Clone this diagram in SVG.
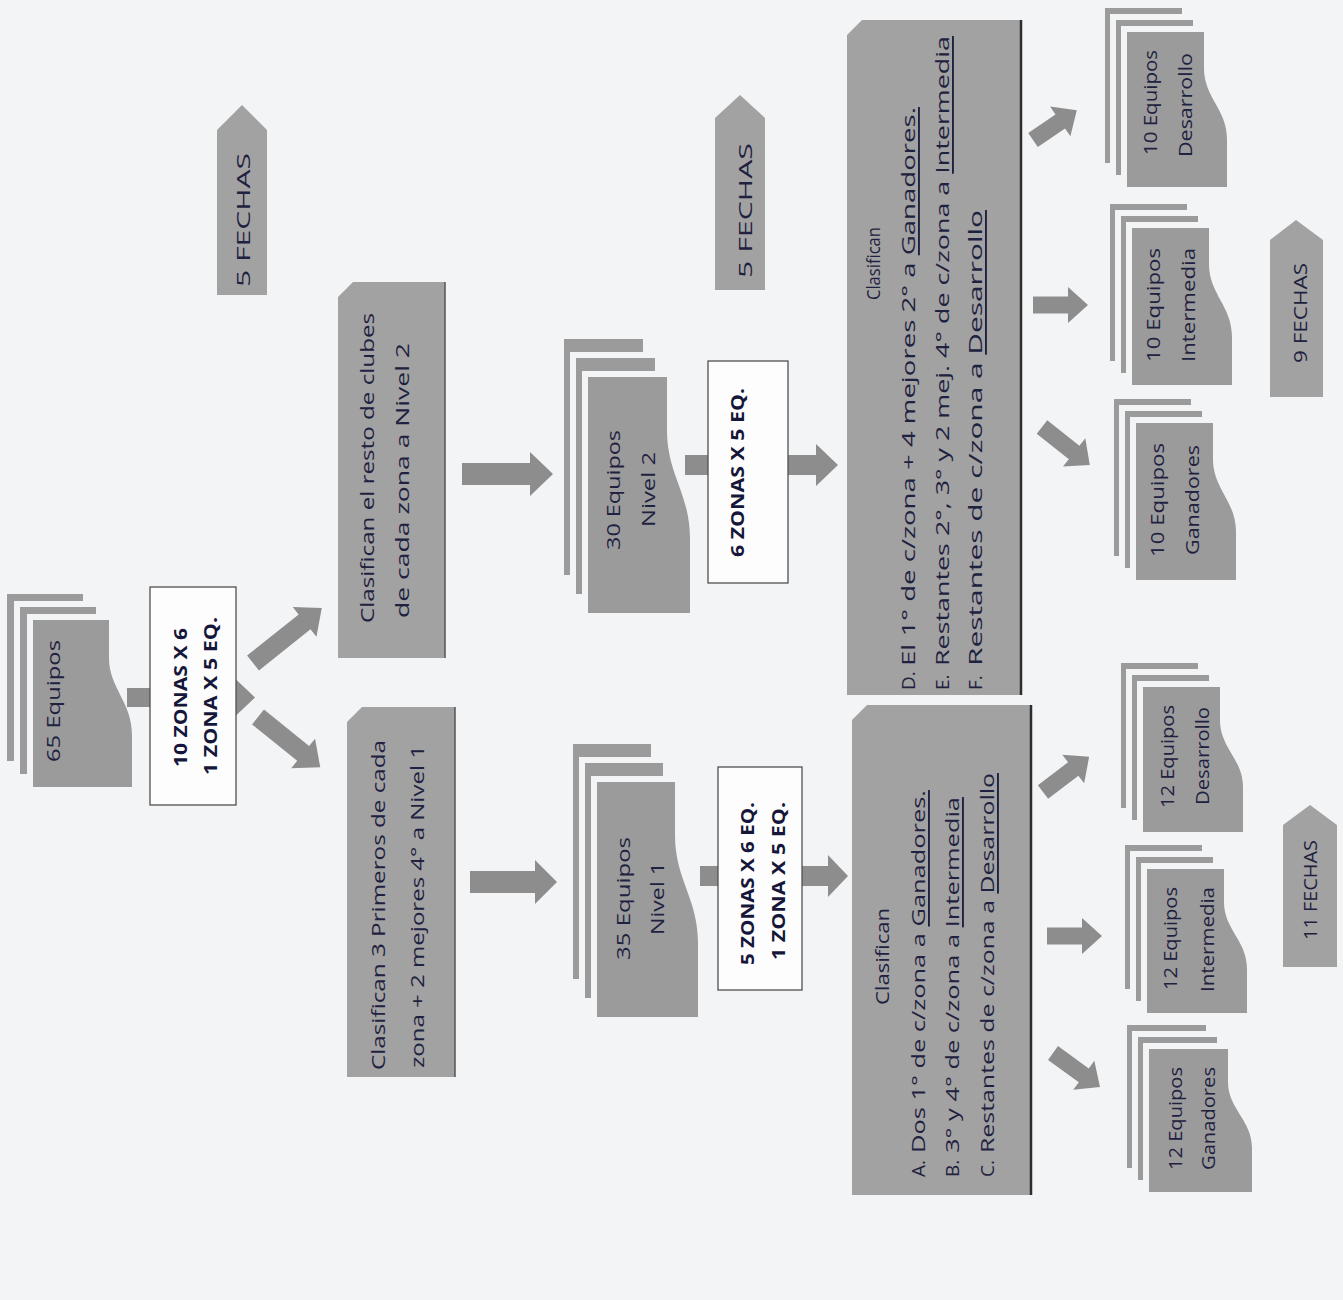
<svg xmlns="http://www.w3.org/2000/svg" width="1343" height="1300" viewBox="0 0 1343 1300">
<style>
.bg{fill:#f3f4f6}
.doc{fill:#9b9b9b}
.gap{fill:#f3f4f6}
.box{fill:#a2a2a2}
.edge{stroke:#2e2e2e;stroke-width:2.5}
.edge2{stroke:#555;stroke-width:1.5}
.lbl{fill:#fdfdfd;stroke:#505050;stroke-width:1.3}
.arr{fill:#8d8d8d}
.t{font-family:"Open Sans","Noto Sans",sans-serif;font-size:19px;fill:#1f2140;dominant-baseline:central}
.b{font-weight:700;font-size:18px;fill:#15163a}
.u{text-decoration:underline}
</style>
<rect class="bg" width="1343" height="1300"/>
<g transform="translate(0 1300) rotate(-90)">
  <g id="connectors">
    <path class="arr" transform="translate(602.5 127) rotate(90)" d="M0 -9.5 H108 V-19 L128 0 L108 19 V9.5 H0 Z"/>
    <path class="arr" transform="translate(637 253) rotate(51.4)" d="M0 -9.5 H66 V-19 L88 0 L66 19 V9.5 H0 Z"/>
    <path class="arr" transform="translate(583 258) rotate(128.9)" d="M0 -9.5 H58 V-19 L80 0 L58 19 V9.5 H0 Z"/>
    <path class="arr" transform="translate(418 470) rotate(90)" d="M0 -11 H65 V-22 L87 0 L65 22 V11 H0 Z"/>
    <path class="arr" transform="translate(826 462) rotate(90)" d="M0 -11 H68 V-22 L91 0 L68 22 V11 H0 Z"/>
    <path class="arr" transform="translate(424 700) rotate(90)" d="M0 -10 H128 V-21 L148 0 L128 21 V10 H0 Z"/>
    <path class="arr" transform="translate(835 685) rotate(90)" d="M0 -10 H131 V-21 L153 0 L131 21 V10 H0 Z"/>
    <path class="arr" transform="translate(508 1043) rotate(52.7)" d="M0 -8.5 H38 V-18 L58 0 L38 18 V8.5 H0 Z"/>
    <path class="arr" transform="translate(364 1047) rotate(90)" d="M0 -8.5 H35 V-18 L55 0 L35 18 V8.5 H0 Z"/>
    <path class="arr" transform="translate(247 1053) rotate(125.9)" d="M0 -8.5 H38 V-18 L58 0 L38 18 V8.5 H0 Z"/>
    <path class="arr" transform="translate(1160 1033) rotate(55.7)" d="M0 -8.5 H33 V-18 L53 0 L33 18 V8.5 H0 Z"/>
    <path class="arr" transform="translate(995 1033) rotate(90)" d="M0 -8.5 H35 V-18 L55 0 L35 18 V8.5 H0 Z"/>
    <path class="arr" transform="translate(873 1042) rotate(128.4)" d="M0 -8.5 H41 V-18 L61 0 L41 18 V8.5 H0 Z"/>
  </g>

  <g id="doc-65-equipos">
    <rect class="doc" x="539" y="7" width="167" height="76"/>
    <rect class="gap" x="526" y="14" width="173" height="82"/>
    <rect class="doc" x="526" y="20" width="167" height="76"/>
    <rect class="gap" x="513" y="27" width="173" height="82"/>
    <path class="doc" d="M513 33 H680 V109 L642 109 C612 109 598 132 565 132 L513 132 Z"/>
    <text class="t" x="538" y="53" textLength="122" lengthAdjust="spacingAndGlyphs">65 Equipos</text>
  </g>

  <g id="zonas-10">
    <rect class="lbl" x="495" y="150" width="218" height="86"/>
    <text class="t b" x="533" y="180" textLength="139" lengthAdjust="spacingAndGlyphs">10 ZONAS X 6</text>
    <text class="t b" x="525" y="210" textLength="158" lengthAdjust="spacingAndGlyphs">1 ZONA X 5 EQ.</text>
  </g>

  <g id="fechas-5a">
    <path class="box" d="M1005 217 H1170 L1195 242 L1170 267 H1005 Z"/>
    <text class="t" x="1013" y="243" textLength="134" lengthAdjust="spacingAndGlyphs">5 FECHAS</text>
  </g>

  <g id="clasifican-nivel1">
    <path class="box" d="M223 347 H578 L593 362 V455 H223 Z"/>
    <line class="edge2" x1="223" y1="455" x2="593" y2="455"/>
    <text class="t" x="230" y="378" textLength="330" lengthAdjust="spacingAndGlyphs">Clasifican 3 Primeros de cada</text>
    <text class="t" x="232" y="417" textLength="323" lengthAdjust="spacingAndGlyphs">zona + 2 mejores 4° a Nivel 1</text>
  </g>

  <g id="clasifican-nivel2">
    <path class="box" d="M642 338 H1003 L1018 353 V445 H642 Z"/>
    <line class="edge2" x1="642" y1="445" x2="1018" y2="445"/>
    <text class="t" x="677" y="367" textLength="310" lengthAdjust="spacingAndGlyphs">Clasifican el resto de clubes</text>
    <text class="t" x="682" y="402" textLength="275" lengthAdjust="spacingAndGlyphs">de cada zona a Nivel 2</text>
  </g>

  <g id="doc-35-nivel1">
    <rect class="doc" x="321" y="573" width="235" height="78"/>
    <rect class="gap" x="302" y="579" width="241" height="84"/>
    <rect class="doc" x="302" y="585" width="235" height="78"/>
    <rect class="gap" x="283" y="591" width="241" height="84"/>
    <path class="doc" d="M283 597 H518 V675 L465 675 C420 675 402 698 357 698 L283 698 Z"/>
    <text class="t" x="340" y="623" textLength="123" lengthAdjust="spacingAndGlyphs">35 Equipos</text>
    <text class="t" x="365" y="657" textLength="73" lengthAdjust="spacingAndGlyphs">Nivel 1</text>
  </g>

  <g id="doc-30-nivel2">
    <rect class="doc" x="725" y="564" width="236" height="79"/>
    <rect class="gap" x="706" y="570" width="242" height="85"/>
    <rect class="doc" x="706" y="576" width="236" height="79"/>
    <rect class="gap" x="687" y="582" width="242" height="85"/>
    <path class="doc" d="M687 588 H923 V667 L870 667 C825 667 807 690 761 690 L687 690 Z"/>
    <text class="t" x="750" y="613" textLength="120" lengthAdjust="spacingAndGlyphs">30 Equipos</text>
    <text class="t" x="773" y="648" textLength="75" lengthAdjust="spacingAndGlyphs">Nivel 2</text>
  </g>

  <g id="zonas-5">
    <rect class="lbl" x="310" y="718" width="223" height="84"/>
    <text class="t b" x="335" y="747" textLength="163" lengthAdjust="spacingAndGlyphs">5 ZONAS X 6 EQ.</text>
    <text class="t b" x="340" y="778" textLength="158" lengthAdjust="spacingAndGlyphs">1 ZONA X 5 EQ.</text>
  </g>

  <g id="zonas-6">
    <rect class="lbl" x="717" y="708" width="222" height="80"/>
    <text class="t b" x="743" y="737" textLength="169" lengthAdjust="spacingAndGlyphs">6 ZONAS X 5 EQ.</text>
  </g>

  <g id="fechas-5b">
    <path class="box" d="M1010 715 H1182 L1205 740 L1182 765 H1010 Z"/>
    <text class="t" x="1022" y="745" textLength="135" lengthAdjust="spacingAndGlyphs">5 FECHAS</text>
  </g>

  <g id="clasifican-abc">
    <path class="box" d="M105 852 H580 L595 867 V1032 H105 Z"/>
    <line class="edge" x1="105" y1="1031" x2="595" y2="1031"/>
    <text class="t" x="295" y="882" textLength="97" lengthAdjust="spacingAndGlyphs">Clasifican</text>
    <text class="t" x="123" y="918">A.</text>
    <text class="t" x="147" y="918" textLength="363" lengthAdjust="spacingAndGlyphs">Dos 1° de c/zona a <tspan class="u">Ganadores.</tspan></text>
    <text class="t" x="123" y="952">B.</text>
    <text class="t" x="147" y="952" textLength="356" lengthAdjust="spacingAndGlyphs">3° y 4° de c/zona  a <tspan class="u">Intermedia</tspan></text>
    <text class="t" x="123" y="987">C.</text>
    <text class="t" x="147" y="987" textLength="380" lengthAdjust="spacingAndGlyphs">Restantes de c/zona a <tspan class="u">Desarrollo</tspan></text>
  </g>

  <g id="clasifican-def">
    <path class="box" d="M605 847 H1265 L1280 862 V1022 H605 Z"/>
    <line class="edge" x1="605" y1="1021" x2="1280" y2="1021"/>
    <text class="t" x="1000" y="873" textLength="73" lengthAdjust="spacingAndGlyphs">Clasifican</text>
    <text class="t" x="610" y="908">D.</text>
    <text class="t" x="634" y="908" textLength="559" lengthAdjust="spacingAndGlyphs">El 1° de c/zona + 4 mejores 2° a <tspan class="u">Ganadores.</tspan></text>
    <text class="t" x="610" y="942">E.</text>
    <text class="t" x="634" y="942" textLength="630" lengthAdjust="spacingAndGlyphs">Restantes 2°, 3° y 2 mej. 4° de c/zona  a <tspan class="u">Intermedia</tspan></text>
    <text class="t" x="610" y="975">F.</text>
    <text class="t" x="634" y="975" textLength="456" lengthAdjust="spacingAndGlyphs">Restantes de c/zona a <tspan class="u">Desarrollo</tspan></text>
  </g>

  <g id="doc-12-ganadores">
    <rect class="doc" x="132" y="1127" width="143" height="79"/>
    <rect class="gap" x="120" y="1132" width="149" height="85"/>
    <rect class="doc" x="120" y="1138" width="143" height="79"/>
    <rect class="gap" x="108" y="1143" width="149" height="85"/>
    <path class="doc" d="M108 1149 H251 V1228 L218 1228 C191 1228 180 1252 152 1252 L108 1252 Z"/>
    <text class="t" x="130" y="1175" textLength="103" lengthAdjust="spacingAndGlyphs">12 Equipos</text>
    <text class="t" x="130" y="1208" textLength="103" lengthAdjust="spacingAndGlyphs">Ganadores</text>
  </g>

  <g id="doc-12-intermedia">
    <rect class="doc" x="311" y="1125" width="144" height="77"/>
    <rect class="gap" x="299" y="1130" width="150" height="83"/>
    <rect class="doc" x="299" y="1136" width="144" height="77"/>
    <rect class="gap" x="287" y="1141" width="150" height="83"/>
    <path class="doc" d="M287 1147 H431 V1224 L398 1224 C370 1224 360 1247 331 1247 L287 1247 Z"/>
    <text class="t" x="310" y="1170" textLength="103" lengthAdjust="spacingAndGlyphs">12 Equipos</text>
    <text class="t" x="308" y="1207" textLength="105" lengthAdjust="spacingAndGlyphs">Intermedia</text>
  </g>

  <g id="doc-12-desarrollo">
    <rect class="doc" x="492" y="1121" width="145" height="77"/>
    <rect class="gap" x="480" y="1126" width="151" height="83"/>
    <rect class="doc" x="480" y="1132" width="145" height="77"/>
    <rect class="gap" x="468" y="1137" width="151" height="83"/>
    <path class="doc" d="M468 1143 H613 V1220 L580 1220 C552 1220 541 1243 513 1243 L468 1243 Z"/>
    <text class="t" x="492" y="1167" textLength="103" lengthAdjust="spacingAndGlyphs">12 Equipos</text>
    <text class="t" x="495" y="1202" textLength="98" lengthAdjust="spacingAndGlyphs">Desarrollo</text>
  </g>

  <g id="fechas-11">
    <path class="box" d="M333 1283 H475 L495 1310 L475 1337 H333 Z"/>
    <text class="t" x="360" y="1310" textLength="100" lengthAdjust="spacingAndGlyphs">11 FECHAS</text>
  </g>

  <g id="doc-10-ganadores">
    <rect class="doc" x="744" y="1114" width="157" height="77"/>
    <rect class="gap" x="732" y="1119" width="163" height="83"/>
    <rect class="doc" x="732" y="1125" width="157" height="77"/>
    <rect class="gap" x="720" y="1130" width="163" height="83"/>
    <path class="doc" d="M720 1136 H877 V1213 L841 1213 C811 1213 799 1236 768 1236 L720 1236 Z"/>
    <text class="t" x="743" y="1157" textLength="114" lengthAdjust="spacingAndGlyphs">10 Equipos</text>
    <text class="t" x="745" y="1192" textLength="110" lengthAdjust="spacingAndGlyphs">Ganadores</text>
  </g>

  <g id="doc-10-intermedia">
    <rect class="doc" x="939" y="1110" width="157" height="77"/>
    <rect class="gap" x="927" y="1115" width="163" height="83"/>
    <rect class="doc" x="927" y="1121" width="157" height="77"/>
    <rect class="gap" x="915" y="1126" width="163" height="83"/>
    <path class="doc" d="M915 1132 H1072 V1209 L1036 1209 C1006 1209 994 1232 963 1232 L915 1232 Z"/>
    <text class="t" x="938" y="1153" textLength="114" lengthAdjust="spacingAndGlyphs">10 Equipos</text>
    <text class="t" x="938" y="1188" textLength="114" lengthAdjust="spacingAndGlyphs">Intermedia</text>
  </g>

  <g id="doc-10-desarrollo">
    <rect class="doc" x="1137" y="1105" width="155" height="77"/>
    <rect class="gap" x="1125" y="1110" width="161" height="83"/>
    <rect class="doc" x="1125" y="1116" width="155" height="77"/>
    <rect class="gap" x="1113" y="1121" width="161" height="83"/>
    <path class="doc" d="M1113 1127 H1268 V1204 L1232 1204 C1202 1204 1191 1227 1161 1227 L1113 1227 Z"/>
    <text class="t" x="1145" y="1150" textLength="105" lengthAdjust="spacingAndGlyphs">10 Equipos</text>
    <text class="t" x="1143" y="1185" textLength="104" lengthAdjust="spacingAndGlyphs">Desarrollo</text>
  </g>

  <g id="fechas-9">
    <path class="box" d="M903 1270 H1060 L1080 1296 L1060 1323 H903 Z"/>
    <text class="t" x="937" y="1300" textLength="100" lengthAdjust="spacingAndGlyphs">9 FECHAS</text>
  </g>
</g>
</svg>
